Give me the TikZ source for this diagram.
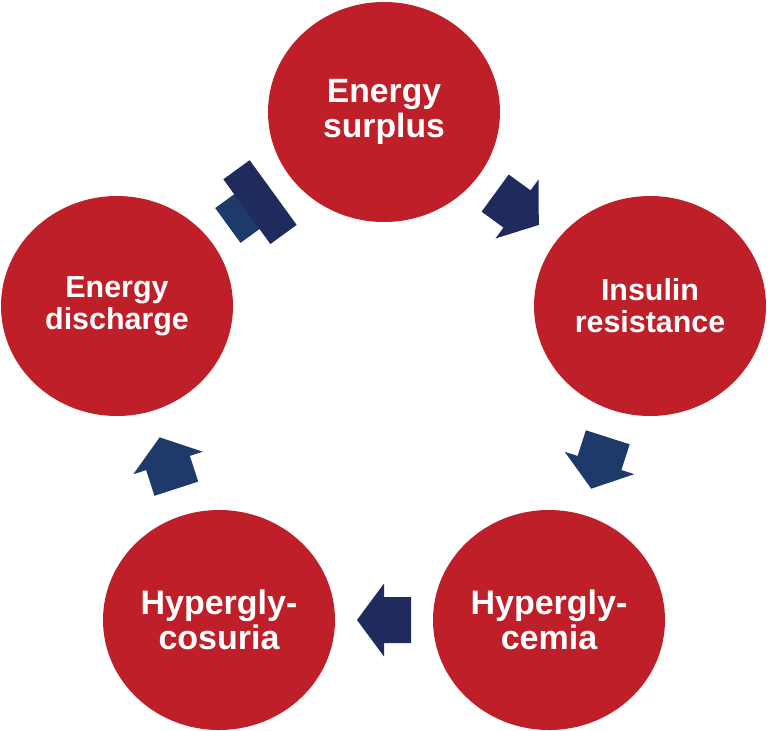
\documentclass[tikz,border=0pt]{standalone}
\usepackage{fontspec}
\setmainfont{Liberation Sans}
\usetikzlibrary{shapes.geometric,calc}
\definecolor{cred}{HTML}{BE1F28}
\definecolor{navyA}{HTML}{1F2A5D}
\definecolor{navyB}{HTML}{1D3A6B}
\begin{document}
\begin{tikzpicture}[x=1pt,y=-1pt,
  stage/.style={ellipse, fill=cred, minimum width=232pt, minimum height=220pt, inner sep=0pt, text=white, align=center},
  smalltext/.style={font=\bfseries\fontsize{30.4}{32}\selectfont},
  bigtext/.style={font=\bfseries\fontsize{34}{35.5}\selectfont},
  cyclearrow/.pic={\fill[#1] (-27,-23) -- (0,-23) -- (0,-36.5) -- (27,0) -- (0,36.5) -- (0,23) -- (-27,23) -- cycle;},
  inhibit/.pic={\fill[navyB] (-28,-21.5) rectangle (0,21.5); \fill[navyA] (-4.5,-40) rectangle (28,40);}
]
\useasboundingbox (0,0) rectangle (769,731);
\node[stage, font=\bfseries\fontsize{33.7}{35}\selectfont] (ES)  at (384,112) {Energy\\surplus};
\node[stage, smalltext] (IR)  at (650,306) {Insulin\\resistance};
\node[stage, bigtext] (HG)  at (549,620) {Hypergly-\\cemia};
\node[stage, bigtext] (HGS) at (219,620) {Hypergly-\\cosuria};
\node[stage, smalltext] (ED)  at (117,306) {Energy\\discharge};
\path let \p1=($(IR)-(ES)$), \n1={atan2(\y1,\x1)} in pic[rotate=\n1] at ($(ES)!0.5!(IR)$) {cyclearrow=navyA};
\path let \p1=($(HG)-(IR)$), \n1={atan2(\y1,\x1)} in pic[rotate=\n1] at ($(IR)!0.5!(HG)$) {cyclearrow=navyB};
\path let \p1=($(HGS)-(HG)$), \n1={atan2(\y1,\x1)} in pic[rotate=\n1] at ($(HG)!0.5!(HGS)$) {cyclearrow=navyA};
\path let \p1=($(ED)-(HGS)$), \n1={atan2(\y1,\x1)} in pic[rotate=\n1] at ($(HGS)!0.5!(ED)$) {cyclearrow=navyB};
\path let \p1=($(ES)-(ED)$), \n1={atan2(\y1,\x1)} in pic[rotate=\n1] at ($(ED)!0.5!(ES)$) {inhibit};
\end{tikzpicture}
\end{document}
